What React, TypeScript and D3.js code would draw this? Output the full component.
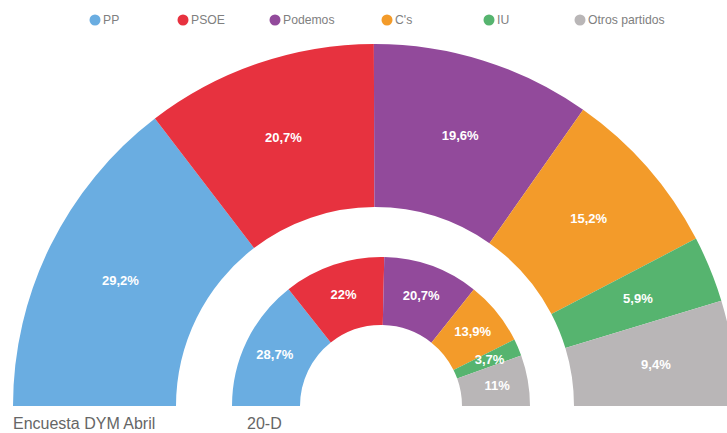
import React, { useEffect } from "react";
import * as d3 from "d3";

const parties = ["PP", "PSOE", "Podemos", "C's", "IU", "Otros partidos"];
const colors = ["#6aade1", "#e7323f", "#924a9b", "#f39b2a", "#56b46f", "#b9b6b7"];
const encuestaValues = [29.2, 20.7, 19.6, 15.2, 5.9, 9.4];
const encuestaLabels = ["29,2%", "20,7%", "19,6%", "15,2%", "5,9%", "9,4%"];
const eleccionValues = [28.7, 22, 20.7, 13.9, 3.7, 11];
const eleccionLabels = ["28,7%", "22%", "20,7%", "13,9%", "3,7%", "11%"];
const ringTitles = ["Encuesta DYM Abril", "20-D"];
const legendX = [95, 183, 275, 387, 489, 580];

const W = 727;
const H = 433;

type Ring = { cx: number; cy: number; r0: number; r1: number; values: number[]; labels: string[]; labelR: number };

const rings: Ring[] = [
  { cx: 375, cy: 406, r0: 199, r1: 362, values: encuestaValues, labels: encuestaLabels, labelR: 284 },
  { cx: 381, cy: 406, r0: 81, r1: 149, values: eleccionValues, labels: eleccionLabels, labelR: 118 },
];

const pie = d3
  .pie<number>()
  .sort(null)
  .value((d) => d)
  .startAngle(-Math.PI / 2)
  .endAngle(Math.PI / 2);

export default function App() {
  useEffect(() => {
    document.body.style.margin = "0";
  }, []);
  const font = "'Liberation Sans', Arial, Helvetica, sans-serif";
  return (
    <svg width={W} height={H} style={{ display: "block", background: "#fff" }}>
      {rings.map((ring, ri) => {
        const arcs = pie(ring.values);
        const arc = d3.arc<d3.PieArcDatum<number>>().innerRadius(ring.r0).outerRadius(ring.r1);
        const labelArc = d3.arc<d3.PieArcDatum<number>>().innerRadius(ring.labelR).outerRadius(ring.labelR);
        return (
          <g key={ri} transform={`translate(${ring.cx},${ring.cy})`}>
            {arcs.map((a, i) => (
              <path key={i} d={arc(a) || ""} fill={colors[i]} />
            ))}
            {arcs.map((a, i) => {
              const [x, y] = labelArc.centroid(a);
              return (
                <text
                  key={"l" + i}
                  x={x}
                  y={y}
                  textAnchor="middle"
                  dominantBaseline="central"
                  fill="#fff"
                  fontFamily={font}
                  fontWeight="bold"
                  fontSize={13}
                >
                  {ring.labels[i]}
                </text>
              );
            })}
          </g>
        );
      })}
      <text x={13} y={429} fontFamily={font} fontSize={16} fill="#666">
        {ringTitles[0]}
      </text>
      <text x={247} y={429} fontFamily={font} fontSize={16} fill="#666">
        {ringTitles[1]}
      </text>
      {parties.map((p, i) => (
        <g key={p} transform={`translate(${legendX[i]},20)`}>
          <circle r={5.5} fill={colors[i]} />
          <text x={8} y={0} dominantBaseline="central" fontFamily={font} fontSize={12.2} fill="#808080">
            {p}
          </text>
        </g>
      ))}
    </svg>
  );
}
